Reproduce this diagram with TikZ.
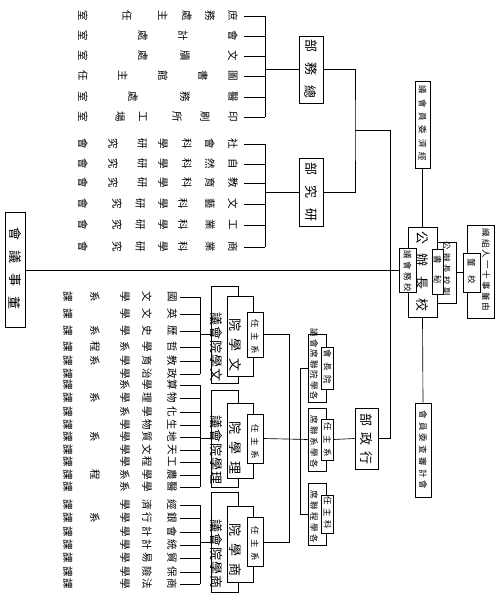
\documentclass[tikz,border=0pt]{standalone}
\usepackage{fontspec}
\newfontfamily\cjk{Noto Sans CJK TC}[BoldFont={Noto Sans CJK TC Bold}]
\usetikzlibrary{positioning}
\tikzset{
  wire/.style={line width=0.65pt},
  box/.style={draw, fill=white, line width=0.65pt, inner sep=0pt},
  ch/.style={font=\cjk\fontsize{10.5}{10.5}\selectfont, rotate=-90, inner sep=0pt},
  lab/.style={font=\cjk\fontsize{13}{13}\selectfont, rotate=-90, inner sep=0pt},
  sml/.style={font=\cjk\fontsize{8.5}{8.5}\selectfont, rotate=-90, inner sep=0pt},
}
% label read from bottom to top: x, lowest y, gap, style, chars
\newcommand\uptext[5]{\foreach \c [count=\i from 0] in {#5} \node[#4] at (#1,{#2-#3*\i}) {\c};}
% one leaf row, read from right to left: name, line start x, y, x/char list
\newcommand\leafrow[4]{\foreach \x/\c in {#4} \node[ch] at (\x,#3) {\c};
  \coordinate (#1) at (#2,#3);}

\begin{document}
\begin{tikzpicture}[x=1pt,y=-1pt]
\useasboundingbox (0,0) rectangle (495,604);

% upper leaves
\coordinate (bus1) at (265,0);
\leafrow{a1}{244}{16}{233/庶,210/務,187/處,163/主,127/任,83/室}
\leafrow{a2}{244}{36}{233/會,183/計,143/處,83/室}
\leafrow{a3}{244}{56}{233/文,185/牘,143/處,83/室}
\leafrow{a4}{244}{76}{233/圖,203/書,163/館,123/主,83/任}
\leafrow{a5}{244}{97}{233/醫,185/務,133/處,83/室}
\leafrow{a6}{244}{117}{233/印,205/刷,177/所,143/工,120/場,83/室}
\foreach \r in {a1,a2,a3,a4,a5,a6} \draw[wire] (\r) -- (\r -| bus1);
\draw[wire] (a1 -| bus1) -- (a6 -| bus1);

\leafrow{b1}{244}{144}{233/社,210/會,187/科,163/學,142/研,113/究,83/會}
\leafrow{b2}{244}{164}{233/自,210/然,187/科,163/學,142/研,113/究,83/會}
\leafrow{b3}{244}{183}{233/教,210/育,187/科,163/學,142/研,113/究,83/會}
\leafrow{b4}{244}{204}{233/文,210/藝,183/科,163/學,140/研,117/究,83/會}
\leafrow{b5}{244}{225}{233/工,210/業,183/科,163/學,140/研,117/究,83/會}
\leafrow{b6}{244}{247}{233/商,210/業,183/科,163/學,140/研,117/究,83/會}
\foreach \r in {b1,b2,b3,b4,b5,b6} \draw[wire] (\r) -- (\r -| bus1);
\draw[wire] (b1 -| bus1) -- (b6 -| bus1);

\node[box, minimum width=24pt, minimum height=67pt] (zongwu) at (311,69.5) {};
\uptext{311}{92}{23}{lab}{總,務,部}
\node[box, minimum width=24pt, minimum height=68pt] (yanjiu) at (311,192) {};
\uptext{311}{215}{23}{lab}{研,究,部}
\draw[wire] (zongwu.west) -- (zongwu.west -| bus1);
\draw[wire] (yanjiu.west) -- (yanjiu.west -| bus1);
\coordinate (k1) at (355,130);
\coordinate (spine) at (390,130);
\draw[wire] (zongwu.east) -| (k1) |- (yanjiu.east);
\draw[wire] (k1) -- (spine);

% board and head
\node[box, minimum width=20pt, minimum height=115pt] (dongshi) at (15,270) {};
\uptext{15}{303}{23}{lab}{董,事,議,會}
\node[box, minimum width=29pt, minimum height=90pt] (xiaozhang) at (422.5,272) {};
\uptext{422.5}{305}{22.5}{lab}{校,長,辦,公}
\node[box, minimum width=17pt, minimum height=44pt] (huiyi) at (407.5,270) {};
\uptext{407.5}{288}{11}{sml}{校,務,會,議}
\node[box, minimum width=19pt, minimum height=61pt] (fuzhang) at (446.5,272.5) {};
\uptext{446.5}{292}{11.5}{sml}{副,校,長,辦,公}
\node[box, minimum width=11pt, minimum height=45pt] (mishu) at (437.5,271.5) {};
\uptext{437.5}{280}{20}{sml}{秘,書}
\node[box, minimum width=27pt, minimum height=93pt] (lishi) at (481,271.5) {};
\uptext{486}{307}{10.6}{sml}{由,董,事,十,一,人,組,織}
\node[box, minimum width=17pt, minimum height=39pt] (xiaodong) at (471.5,272.5) {};
\uptext{471.5}{280}{17}{sml}{校,董}
\node[box, minimum width=15pt, minimum height=87pt] (jingji) at (422.5,124.5) {};
\uptext{422.5}{157}{13.4}{sml}{經,濟,委,員,會,議}
\node[box, minimum width=16pt, minimum height=94pt] (jiancha) at (423,450) {};
\uptext{423}{485}{11.7}{sml}{會,計,審,查,委,員,會}

\draw[wire] (dongshi.east) -- (huiyi.west);
\draw[wire] (fuzhang.east) -- (xiaodong.west);
\draw[wire] (jingji.south) -- (xiaozhang.north);
\draw[wire] (xiaozhang.south) -- (jiancha.north);

% executive branch
\node[box, minimum width=23pt, minimum height=61pt] (xingzheng) at (366.5,438.5) {};
\uptext{366.5}{458}{19}{lab}{行,政,部}
\draw[wire] (spine) -- (spine |- xingzheng.east) -- (xingzheng.east);

\coordinate (bus3) at (300,0);
\foreach \n/\y/\ho/\hi in {p1/368/68/42, p2/439.5/63/41, p3/514/62/38}{
  \node[box, minimum width=18pt, minimum height=\ho pt] (\n o) at (317,\y) {};
  \node[box, minimum width=12pt, minimum height=\hi pt] (\n i) at (327,\y) {};
}
\uptext{314}{396}{10.5}{sml}{各,學,院,聯,席,會,議}
\uptext{327.5}{380}{13}{sml}{院,長,會}
\uptext{314}{464}{11}{sml}{各,學,系,聯,席}
\uptext{327.5}{453}{13}{sml}{系,主,任}
\uptext{314}{539}{11}{sml}{各,學,程,聯,席}
\uptext{327.5}{525}{12}{sml}{科,主,任}
\draw[wire] (p2i.east) -- (xingzheng.west);
\draw[wire] (p1o.west) -- (p1o.west -| bus3) -- (p3o.west -| bus3) -- (p3o.west);

% three colleges
\coordinate (bus4) at (289,0);
\coordinate (bus5) at (200,0);
\foreach \n/\y/\ha/\hb/\hc in {q1/334.5/97/80/45, q2/438.5/97/75/49, q3/542/100/76/49}{
  \node[box, minimum width=27pt, minimum height=\ha pt] (\n a) at (224.5,\y) {};
  \node[box, minimum width=26pt, minimum height=\hb pt] (\n b) at (240,\y+2) {};
  \node[box, minimum width=16pt, minimum height=\hc pt] (\n c) at (255,\y) {};
  \draw[wire] (\n a.west) -- (\n a.west -| bus5);
}
\uptext{216}{375}{14}{lab}{文,學,院,會,議}
\uptext{235}{365}{20}{lab}{文,學,院}
\uptext{255}{350}{13}{sml}{系,主,任}
\uptext{216}{478}{14}{lab}{理,學,院,會,議}
\uptext{235}{468}{20}{lab}{理,學,院}
\uptext{255}{455}{13}{sml}{系,主,任}
\uptext{216}{582}{14}{lab}{商,學,院,會,議}
\uptext{235}{570}{20}{lab}{商,學,院}
\uptext{255}{557}{13}{sml}{系,主,任}
\draw[wire] (q1c.east) -- (q1c.east -| bus4) -- (q3c.east -| bus4) -- (q3c.east);
\draw[wire] (q2c.east) -- (p2o.west);

% course rows
\leafrow{c1}{180}{297}{172/國,147/文,125/學,95/系,68/課}
\leafrow{c2}{180}{314}{172/英,147/文,125/學,68/課}
\leafrow{c3}{180}{331}{172/歷,147/史,125/學,95/系,68/課}
\leafrow{c4}{180}{347}{172/哲,147/學,125/系,95/程,68/課}
\leafrow{c5}{180}{361}{172/教,147/育,125/學,95/系,68/課}
\leafrow{c6}{180}{374}{172/政,147/治,125/學,68/課}
\foreach \r in {c1,c2,c3,c4,c5,c6} \draw[wire] (\r) -- (\r -| bus5);
\draw[wire] (c1 -| bus5) -- (c6 -| bus5);

\leafrow{d1}{180}{385}{172/算,147/學,125/系,68/課}
\leafrow{d2}{180}{398}{172/物,147/理,125/學,95/系,68/課}
\leafrow{d3}{180}{412}{172/化,147/學,125/系,68/課}
\leafrow{d4}{180}{425}{172/生,147/物,125/學,68/課}
\leafrow{d5}{180}{437}{172/地,147/質,125/學,95/系,68/課}
\leafrow{d6}{180}{450}{172/天,147/文,125/學,68/課}
\leafrow{d7}{180}{462}{172/工,147/程,125/學,68/課}
\leafrow{d8}{180}{475}{172/農,147/學,125/系,95/程,68/課}
\leafrow{d9}{180}{487}{172/醫,147/學,125/系,68/課}
\foreach \r in {d1,d2,d3,d4,d5,d6,d7,d8,d9} \draw[wire] (\r) -- (\r -| bus5);
\draw[wire] (d1 -| bus5) -- (d9 -| bus5);

\leafrow{e1}{180}{505}{172/經,147/濟,125/學,68/課}
\leafrow{e2}{180}{518}{172/銀,147/行,125/學,95/系,68/課}
\leafrow{e3}{180}{532}{172/會,147/計,125/學,68/課}
\leafrow{e4}{180}{545}{172/統,147/計,125/學,68/課}
\leafrow{e5}{180}{558}{172/貿,147/易,125/學,68/課}
\leafrow{e6}{180}{572}{172/保,147/險,125/學,68/課}
\leafrow{e7}{180}{584}{172/商,147/法,125/學,68/課}
\foreach \r in {e1,e2,e3,e4,e5,e6,e7} \draw[wire] (\r) -- (\r -| bus5);
\draw[wire] (e1 -| bus5) -- (e7 -| bus5);
\end{tikzpicture}
\end{document}
